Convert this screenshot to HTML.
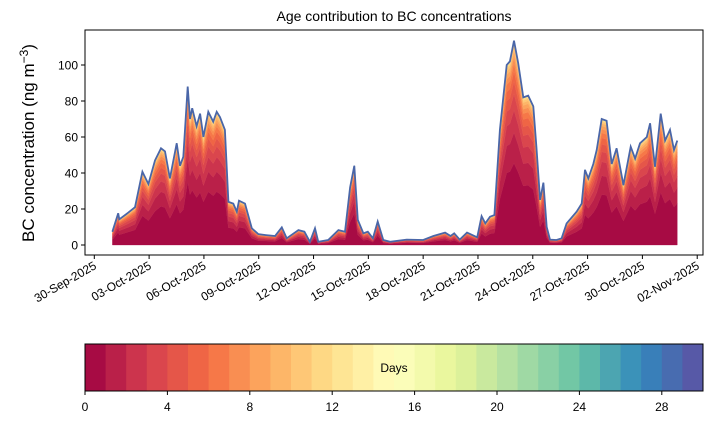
<!DOCTYPE html>
<html><head><meta charset="utf-8">
<style>
body{margin:0;background:#fff;}
svg{display:block;font-family:"Liberation Sans","DejaVu Sans",sans-serif;}
</style></head>
<body>
<svg id="chart" width="714" height="425" viewBox="0 0 714 425">
<text x="394" y="21" text-anchor="middle" font-size="14">Age contribution to BC concentrations</text>
<text transform="translate(34,143) rotate(-90)" text-anchor="middle" font-size="17">BC concentration (ng m<tspan dy="-6" font-size="12">−3</tspan><tspan dy="6">)</tspan></text>
<g id="areas"></g>
<g id="yticks"></g>
<g id="xticks"></g>
<rect x="85" y="30" width="618" height="225" fill="none" stroke="#000" stroke-width="1"/>
<g id="cbar"></g>
</svg>
<script>
// data: day offset from 30-Sep-2025, total BC (ng m-3)
const days=[0.99,1.31,1.37,1.86,2.23,2.63,2.96,3.32,3.65,3.87,4.14,4.51,4.69,4.87,5.11,5.24,5.36,5.6,5.79,5.97,6.24,6.51,6.7,6.88,7.15,7.34,7.61,7.8,7.92,8.25,8.62,8.98,9.4,9.89,10.26,10.53,11.17,11.5,11.8,12.08,12.26,12.8,13.36,13.72,14.0,14.23,14.42,14.73,14.97,15.25,15.51,15.82,16.19,17.1,18.0,18.56,19.2,19.5,19.7,20.0,20.4,20.96,21.2,21.4,21.66,21.9,22.2,22.57,22.75,22.97,23.2,23.48,23.75,24.03,24.2,24.4,24.58,24.76,24.94,25.3,25.58,25.85,26.4,26.68,26.86,27.04,27.31,27.5,27.77,28.04,28.32,28.59,28.96,29.36,29.6,29.87,30.24,30.42,30.69,31.0,31.24,31.51,31.73,31.91];
const totals=[7.4,17.6,14.3,18,21,40.7,33.9,47,53.7,52,37,56.5,44,49,88,70,76,66,73,60,74,68.5,74,71,64,24,23,18.5,24.6,23,9.3,6,5.5,5,9.8,3.7,8.3,7.4,1.8,9.3,1.8,2.8,8.3,7.4,32,44,14,6.5,7.4,3.7,13,2.8,1.8,3,2.8,5,6.9,5,6.5,3,6.9,4.3,16,12,15.7,16.6,64,100,102,113.5,101,82,83,77,54.6,25,34.6,10,3,2.8,3.7,12,18.5,23,41.7,37,45,52.8,70,69,45,53.7,33.3,54.6,48,56.5,60,67.6,43.5,73,58,64,52.8,58];
// share of total by age (days 0..29)
const ageShare=[.40,.15,.11,.08,.06,.05,.04,.03,.025,.02,.015,.01,.007,.005,.0002,.0002,.0002,.0002,.0002,.0002,.0002,.0002,.0002,.0002,.0002,.0002,.0002,.0002,.0002,.0002];
const yTicks=[0,20,40,60,80,100];
const xTickDays=[0,3,6,9,12,15,18,21,24,27,30,33];
const xTickLabels=["30-Sep-2025","03-Oct-2025","06-Oct-2025","09-Oct-2025","12-Oct-2025","15-Oct-2025","18-Oct-2025","21-Oct-2025","24-Oct-2025","27-Oct-2025","30-Oct-2025","02-Nov-2025"];
const cbTicks=[0,4,8,12,16,20,24,28];

const NS="http://www.w3.org/2000/svg";
const X=d=>94.3+d*18.27;
const Y=v=>245-v*1.8;
const CX=a=>85+a*(618/30);
const spec=["#9e0142","#d53e4f","#f46d43","#fdae61","#fee08b","#ffffbf","#e6f598","#abdda4","#66c2a5","#3288bd","#5e4fa2"];
function hx(c){return [1,3,5].map(i=>parseInt(c.substr(i,2),16));}
function cmap(t){const p=t*10,i=Math.min(9,Math.floor(p)),f=p-i;const a=hx(spec[i]),b=hx(spec[i+1]);return "rgb("+a.map((v,k)=>Math.round(v+(b[k]-v)*f)).join(",")+")";}
function mk(tag,attrs,parent){const e=document.createElementNS(NS,tag);for(const k in attrs)e.setAttribute(k,attrs[k]);parent.appendChild(e);return e;}

const areas=document.getElementById('areas');
let cumPrev=0;
for(let k=0;k<ageShare.length;k++){
  const cum=Math.min(1,cumPrev+ageShare[k]);
  let pts=days.map((d,i)=>X(d).toFixed(1)+","+Y(totals[i]*cum).toFixed(1));
  let low=days.map((d,i)=>X(d).toFixed(1)+","+Y(totals[i]*cumPrev).toFixed(1)).reverse();
  const p=mk('polygon',{points:pts.concat(low).join(" "),fill:cmap((k+0.5)/30),stroke:cmap((k+0.5)/30),'stroke-width':0.3},areas);
  
  
  cumPrev=cum;
}
const line=mk('polyline',{points:days.map((d,i)=>X(d).toFixed(1)+","+Y(totals[i]).toFixed(1)).join(" "),fill:"none",stroke:"#4a66a8","stroke-width":1.8},areas);



const yt=document.getElementById('yticks');
yTicks.forEach(v=>{
  const l=mk('line',{x1:81,x2:85,y1:Y(v),y2:Y(v),stroke:"#000"},yt);
  
  
  const t=mk('text',{x:78,y:Y(v)+4.5,'text-anchor':'end','font-size':12},yt);
  t.textContent=v;
  
  
});
const xt=document.getElementById('xticks');
xTickDays.forEach((d,i)=>{
  const x=X(d);
  const l=mk('line',{x1:x,x2:x,y1:255,y2:259,stroke:"#000"},xt);
  
  
  const t=mk('text',{transform:"translate("+(x+3)+",268) rotate(-30)",'text-anchor':'end','font-size':12},xt);
  t.textContent=xTickLabels[i];
  
  
});
const cb=document.getElementById('cbar');
for(let a=0;a<30;a++){
  const r=mk('rect',{x:CX(a),y:344,width:618/30+0.5,height:47,fill:cmap((a+0.5)/30)},cb);
  
  
}
mk('rect',{x:85,y:344,width:618,height:47,fill:"none",stroke:"#000"},cb);
const dl=mk('text',{x:394,y:372,'text-anchor':'middle','font-size':12},cb);
dl.textContent="Days";


cbTicks.forEach(v=>{
  const l=mk('line',{x1:CX(v),x2:CX(v),y1:391,y2:395,stroke:"#000"},cb);
  
  
  const t=mk('text',{x:CX(v),y:411,'text-anchor':'middle','font-size':12},cb);
  t.textContent=v;
  
  
});
</script>
</body></html>
